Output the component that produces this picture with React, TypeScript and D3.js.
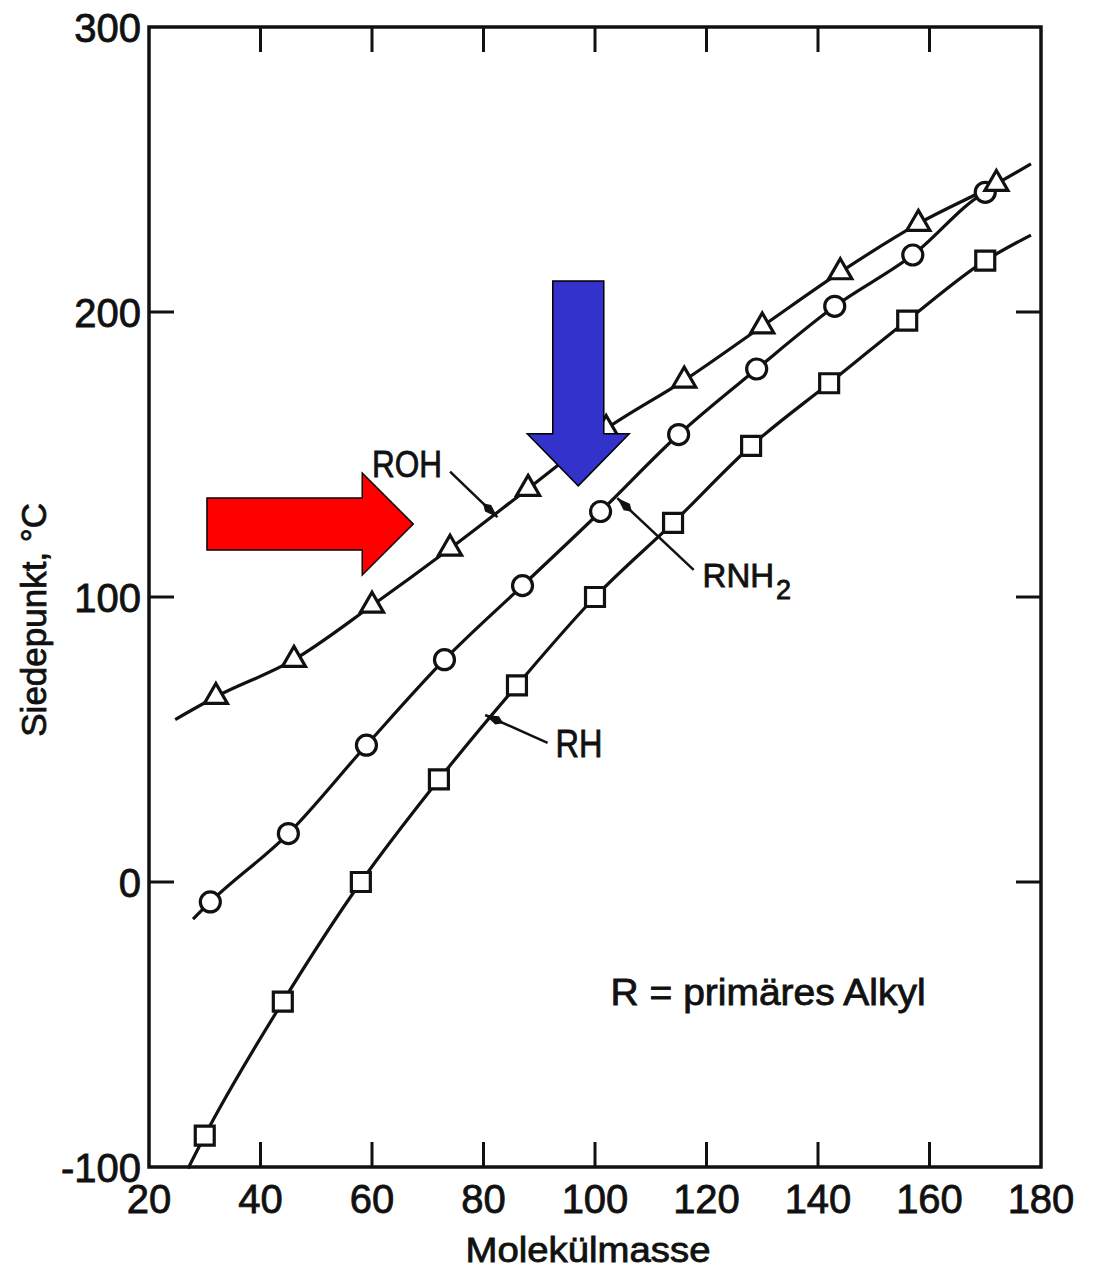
import React from "react";
import * as d3 from "d3";

// molar mass (g/mol) and boiling point (°C)
const rohMass = [32, 46, 60, 74, 88, 102, 116, 130, 144, 158, 172];
const rohBp = [65, 78, 97, 117, 138, 159, 176, 195, 214, 231, 245];
const rnh2Mass = [31, 45, 59, 73, 87, 101, 115, 129, 143, 157, 170];
const rnh2Bp = [-7, 17, 48, 78, 104, 130, 157, 180, 202, 220, 242];
const rhMass = [30, 44, 58, 72, 86, 100, 114, 128, 142, 156, 170];
const rhBp = [-89, -42, 0, 36, 69, 100, 126, 153, 175, 197, 218];

// where each drawn curve starts and stops (mass, bp)
const rohEnds = [[24.7, 57], [178.2, 252]];
const rnh2Ends = [[27.9, -13], [171, 243]];
const rhEnds = [[27, -100.5], [178.2, 227]];

const xTicks = [20, 40, 60, 80, 100, 120, 140, 160, 180];
const yTicks = [-100, 0, 100, 200, 300];

const W = 1102;
const H = 1273;
const FONT = "'Liberation Sans', Arial, sans-serif";
const INK = "#111";

const x = d3.scaleLinear().domain([20, 180]).range([149, 1041]);
const y = d3.scaleLinear().domain([-100, 300]).range([1167, 27]);

const line = d3
  .line<number[]>()
  .x((d) => x(d[0]))
  .y((d) => y(d[1]))
  .curve(d3.curveMonotoneX);

const curvePts = (mass: number[], bp: number[], ends: number[][]) => {
  const pts = mass.map((m, i) => [m, bp[i]]);
  return [ends[0], ...pts, ends[1]];
};

const triangle = d3.symbol(d3.symbolTriangle, 230)();
const square = d3.symbol(d3.symbolSquare, 360)();

// scanned print looks heavier than the plain font
const inkText = { fill: INK, stroke: INK, strokeWidth: 0.8 };

const Leader = ({ from, to }: { from: number[]; to: number[] }) => (
  <line
    x1={x(from[0])}
    y1={y(from[1])}
    x2={x(to[0])}
    y2={y(to[1])}
    stroke={INK}
    strokeWidth={2.5}
    markerEnd="url(#dart)"
  />
);

export default function App() {
  const left = x(20);
  const right = x(180);
  const top = y(300);
  const bottom = y(-100);
  const tickLen = 25;

  // highlight arrows (tip in data space, sizes in px)
  const redTip = [x(67.4), y(125.6)];
  const redTail = x(30.4);
  const red = [
    [redTail, redTip[1] - 26],
    [redTip[0] - 51, redTip[1] - 26],
    [redTip[0] - 51, redTip[1] - 51],
    [redTip[0], redTip[1]],
    [redTip[0] - 51, redTip[1] + 51],
    [redTip[0] - 51, redTip[1] + 26],
    [redTail, redTip[1] + 26],
  ];
  const blueTip = [x(97), y(139)];
  const blueTop = y(210.9);
  const blue = [
    [blueTip[0] - 25.5, blueTop],
    [blueTip[0] + 25.5, blueTop],
    [blueTip[0] + 25.5, blueTip[1] - 52],
    [blueTip[0] + 51, blueTip[1] - 52],
    [blueTip[0], blueTip[1]],
    [blueTip[0] - 51, blueTip[1] - 52],
    [blueTip[0] - 25.5, blueTip[1] - 52],
  ];

  return (
    <svg
      width={W}
      height={H}
      style={{ position: "absolute", left: 0, top: 0, background: "#fff" }}
      fontFamily={FONT}
    >
      <defs>
        <marker
          id="dart"
          viewBox="0 0 20 10"
          refX={20}
          refY={5}
          markerWidth={20}
          markerHeight={10}
          markerUnits="userSpaceOnUse"
          orient="auto"
        >
          <path d="M0,5 L7,0.5 L20,5 L7,9.5 Z" fill={INK} />
        </marker>
      </defs>
      <rect x={0} y={0} width={W} height={H} fill="#fff" />

      {/* frame */}
      <rect
        x={left}
        y={top}
        width={right - left}
        height={bottom - top}
        fill="none"
        stroke={INK}
        strokeWidth={3.5}
      />

      {/* x ticks, inward on bottom and top */}
      {xTicks.slice(1, -1).map((t) => (
        <g key={"xt" + t} stroke={INK} strokeWidth={3}>
          <line x1={x(t)} x2={x(t)} y1={bottom} y2={bottom - tickLen} />
          <line x1={x(t)} x2={x(t)} y1={top} y2={top + tickLen} />
        </g>
      ))}
      {xTicks.map((t) => (
        <text
          key={"xl" + t}
          x={x(t)}
          y={bottom + 46}
          textAnchor="middle"
          fontSize={40}
          {...inkText}
        >
          {t}
        </text>
      ))}

      {/* y ticks, inward on left and right */}
      {yTicks.slice(1, -1).map((t) => (
        <g key={"yt" + t} stroke={INK} strokeWidth={3}>
          <line x1={left} x2={left + tickLen} y1={y(t)} y2={y(t)} />
          <line x1={right} x2={right - tickLen} y1={y(t)} y2={y(t)} />
        </g>
      ))}
      {yTicks.map((t) => (
        <text
          key={"yl" + t}
          x={left - 8}
          y={y(t) + 15}
          textAnchor="end"
          fontSize={40}
          {...inkText}
        >
          {t}
        </text>
      ))}

      {/* axis titles */}
      <text
        x={588}
        y={1262}
        textAnchor="middle"
        fontSize={35}
        textLength={245}
        lengthAdjust="spacingAndGlyphs"
        {...inkText}
      >
        Molekülmasse
      </text>
      <text
        transform={`translate(46, ${y(92)}) rotate(-90)`}
        textAnchor="middle"
        fontSize={35}
        {...inkText}
      >
        Siedepunkt, °C
      </text>

      {/* curves */}
      <g fill="none" stroke={INK} strokeWidth={3.2}>
        <path d={line(curvePts(rohMass, rohBp, rohEnds)) || ""} />
        <path d={line(curvePts(rnh2Mass, rnh2Bp, rnh2Ends)) || ""} />
        <path d={line(curvePts(rhMass, rhBp, rhEnds)) || ""} />
      </g>

      {/* markers */}
      <g fill="#fff" stroke={INK} strokeWidth={3.2}>
        {rhMass.map((m, i) => (
          <path
            key={"rh" + i}
            d={square || ""}
            transform={`translate(${x(m)},${y(rhBp[i])})`}
          />
        ))}
        {rnh2Mass.map((m, i) => (
          <circle key={"am" + i} cx={x(m)} cy={y(rnh2Bp[i])} r={10} />
        ))}
        {rohMass.map((m, i) => (
          <path
            key={"oh" + i}
            d={triangle || ""}
            transform={`translate(${x(m)},${y(rohBp[i])})`}
          />
        ))}
      </g>

      {/* labels with leaders */}
      <text x={x(60)} y={y(142)} fontSize={36} textLength={70} lengthAdjust="spacingAndGlyphs" {...inkText}>
        ROH
      </text>
      <Leader from={[74, 144]} to={[82.5, 128]} />

      <text x={x(119.3)} y={y(103.5)} fontSize={33} {...inkText}>
        RNH
        <tspan dx={2} dy={12} fontSize={27}>
          2
        </tspan>
      </text>
      <Leader from={[117.7, 109.5]} to={[104, 134.7]} />

      <text x={x(92.9)} y={y(43.9)} fontSize={38} textLength={47} lengthAdjust="spacingAndGlyphs" {...inkText}>
        RH
      </text>
      <Leader from={[91.5, 48.8]} to={[80.3, 58.6]} />

      <text x={x(102.8)} y={y(-43)} fontSize={36} textLength={315} lengthAdjust="spacingAndGlyphs" {...inkText}>
        R = primäres Alkyl
      </text>

      {/* highlight arrows */}
      <polygon
        points={red.map((p) => p.join(",")).join(" ")}
        fill="#ff0000"
        stroke="#000"
        strokeWidth={1.5}
      />
      <polygon
        points={blue.map((p) => p.join(",")).join(" ")}
        fill="#3333cc"
        stroke="#000"
        strokeWidth={1.5}
      />
    </svg>
  );
}
